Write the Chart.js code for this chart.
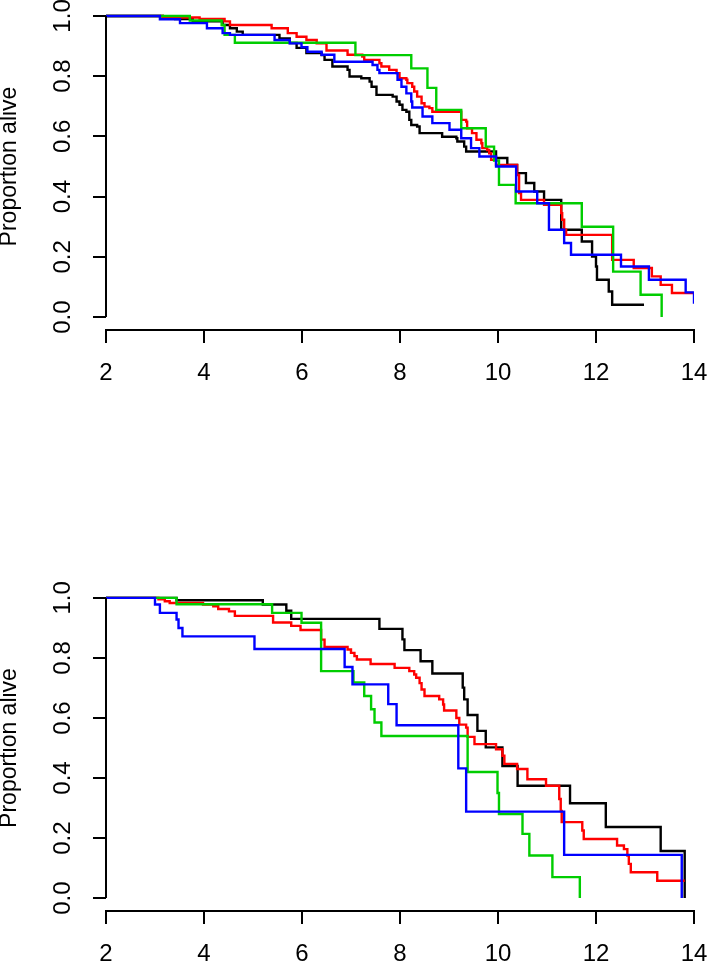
<!DOCTYPE html>
<html><head><meta charset="utf-8">
<script src="https://cdn.jsdelivr.net/npm/chart.js@4/dist/chart.umd.min.js"></script>
<style>
html,body{margin:0;padding:0;background:#fff;width:709px;height:962px;overflow:hidden;}
canvas{position:absolute;left:0;}
#topChart{top:0;}
#botChart{top:560px;}
</style></head><body>
<canvas id="topChart" width="709" height="400"></canvas>
<canvas id="botChart" width="709" height="402"></canvas>
<script>
// ---------- tick labels ----------
const xTicks = [2, 4, 6, 8, 10, 12, 14];
const yTicks = [0, 0.2, 0.4, 0.6, 0.8, 1.0];
const yTickLabels = ['0.0', '0.2', '0.4', '0.6', '0.8', '1.0'];
const yTitle = 'Proportion alive';

// ---------- top panel ----------
const t1Black = [2, 3.16, 3.41, 3.77, 4.38, 4.53, 4.67, 4.79, 5.54, 5.75, 5.89, 6.09, 6.40, 6.46, 6.62, 6.93, 6.97, 7.21, 7.38, 7.42, 7.52, 7.85, 7.93, 7.99, 8.05, 8.13, 8.19, 8.23, 8.35, 8.40, 8.86, 9.15, 9.17, 9.31, 9.35, 9.96, 10.19, 10.39, 10.57, 10.74, 10.94, 11.29, 11.71, 11.92, 12.00, 12.02, 12.26, 12.33, 12.98];
const s1Black = [1, 0.995, 0.99, 0.982, 0.97, 0.959, 0.948, 0.937, 0.925, 0.91, 0.894, 0.877, 0.87, 0.854, 0.832, 0.821, 0.799, 0.793, 0.782, 0.765, 0.738, 0.732, 0.716, 0.705, 0.688, 0.682, 0.655, 0.638, 0.633, 0.611, 0.599, 0.594, 0.583, 0.566, 0.55, 0.528, 0.505, 0.478, 0.445, 0.417, 0.389, 0.29, 0.251, 0.201, 0.168, 0.124, 0.085, 0.041, 0.041];

const t1Red = [2, 3.16, 3.91, 4.42, 4.53, 5.38, 5.71, 5.89, 6.09, 6.30, 6.50, 6.93, 7.23, 7.27, 7.58, 7.62, 7.78, 7.93, 7.99, 8.13, 8.15, 8.25, 8.29, 8.35, 8.44, 8.50, 8.60, 8.66, 9.25, 9.35, 9.37, 9.47, 9.56, 9.66, 9.68, 9.78, 9.82, 9.86, 9.96, 10.39, 10.43, 10.47, 10.94, 11.29, 11.31, 11.35, 11.39, 12.33, 12.77, 13.14, 13.32, 13.55, 13.98];
const s1Red = [1, 0.995, 0.99, 0.982, 0.97, 0.959, 0.943, 0.931, 0.92, 0.909, 0.885, 0.871, 0.865, 0.854, 0.843, 0.832, 0.821, 0.81, 0.793, 0.788, 0.777, 0.765, 0.749, 0.732, 0.71, 0.699, 0.694, 0.682, 0.655, 0.649, 0.627, 0.611, 0.589, 0.577, 0.561, 0.555, 0.544, 0.522, 0.505, 0.472, 0.412, 0.389, 0.373, 0.345, 0.323, 0.29, 0.273, 0.19, 0.163, 0.135, 0.107, 0.08, 0.08];

const t1Green = [2, 3.71, 4.36, 4.42, 4.63, 7.09, 8.23, 8.56, 8.74, 9.25, 9.75, 9.92, 10.02, 10.36, 11.71, 12.35, 12.91, 13.34];
const s1Green = [1, 0.985, 0.97, 0.937, 0.911, 0.87, 0.826, 0.761, 0.688, 0.627, 0.566, 0.52, 0.439, 0.378, 0.3, 0.151, 0.074, 0];

const t1Blue = [2, 3.10, 3.51, 4.06, 4.38, 4.53, 5.44, 5.75, 5.99, 6.11, 6.40, 6.66, 7.44, 7.54, 7.58, 7.95, 8.03, 8.13, 8.23, 8.25, 8.46, 8.66, 9.01, 9.25, 9.45, 9.62, 9.96, 10.37, 10.80, 11.04, 11.35, 11.49, 12.51, 13.08, 13.83, 14.0, 14.0];
const s1Blue = [1, 0.989, 0.976, 0.959, 0.943, 0.937, 0.92, 0.909, 0.896, 0.881, 0.871, 0.848, 0.837, 0.821, 0.81, 0.788, 0.765, 0.743, 0.716, 0.696, 0.666, 0.644, 0.622, 0.594, 0.561, 0.533, 0.5, 0.417, 0.378, 0.29, 0.246, 0.207, 0.168, 0.124, 0.082, 0.082, 0.044];

// ---------- bottom panel ----------
const t2Black = [2, 3.44, 5.20, 5.68, 5.78, 7.58, 8.05, 8.09, 8.42, 8.66, 9.28, 9.31, 9.38, 9.58, 9.75, 10.09, 10.40, 11.47, 12.20, 13.32, 13.81];
const s2Black = [1, 0.992, 0.978, 0.957, 0.93, 0.897, 0.862, 0.826, 0.789, 0.748, 0.701, 0.662, 0.61, 0.557, 0.502, 0.44, 0.374, 0.316, 0.237, 0.157, 0];

const t2Red = [2, 3.07, 3.20, 3.30, 3.98, 4.19, 4.29, 4.51, 4.63, 5.41, 5.78, 5.97, 6.39, 6.46, 6.93, 7.00, 7.07, 7.12, 7.40, 7.89, 8.19, 8.29, 8.33, 8.40, 8.44, 8.50, 8.80, 8.88, 8.90, 9.15, 9.21, 9.35, 9.38, 9.52, 9.96, 10.09, 10.13, 10.39, 10.60, 10.98, 11.25, 11.28, 11.30, 11.72, 11.75, 12.43, 12.57, 12.64, 12.67, 12.71, 13.25, 13.81];
const s2Red = [1, 0.995, 0.989, 0.983, 0.978, 0.972, 0.963, 0.955, 0.94, 0.918, 0.907, 0.893, 0.861, 0.837, 0.828, 0.817, 0.806, 0.795, 0.78, 0.767, 0.756, 0.745, 0.734, 0.716, 0.695, 0.673, 0.662, 0.645, 0.625, 0.60, 0.578, 0.568, 0.537, 0.513, 0.496, 0.474, 0.447, 0.43, 0.396, 0.374, 0.33, 0.29, 0.253, 0.225, 0.197, 0.175, 0.163, 0.142, 0.114, 0.086, 0.058, 0.058];

const t2Green = [2, 3.44, 5.39, 5.99, 6.39, 7.05, 7.27, 7.41, 7.48, 7.62, 9.38, 9.99, 10.02, 10.50, 10.64, 11.11, 11.67];
const s2Green = [1, 0.979, 0.95, 0.917, 0.756, 0.718, 0.673, 0.629, 0.585, 0.54, 0.42, 0.35, 0.28, 0.214, 0.142, 0.07, 0];

const t2Blue = [2, 3.00, 3.10, 3.44, 3.48, 3.56, 5.03, 6.87, 7.03, 7.76, 7.93, 9.19, 9.35, 11.35, 13.75];
const s2Blue = [1, 0.978, 0.95, 0.928, 0.9, 0.872, 0.83, 0.77, 0.712, 0.646, 0.576, 0.432, 0.288, 0.144, 0];

// ---------- drawing ----------
Chart.defaults.font.family = "'Liberation Sans', Arial, Helvetica, sans-serif";
Chart.defaults.color = '#000';

const FONT_SIZE = 24;

function pts(t, s) { return t.map((v, i) => ({ x: v, y: s[i] })); }

const yAxisLine = {
  id: 'yAxisLine',
  afterDraw(chart) {
    const { ctx, chartArea, scales } = chart;
    const y = scales.y;
    ctx.save();
    ctx.strokeStyle = '#000';
    ctx.lineWidth = 2;
    ctx.beginPath();
    ctx.moveTo(chartArea.left, y.getPixelForValue(yTicks[0]));
    ctx.lineTo(chartArea.left, y.getPixelForValue(yTicks[yTicks.length - 1]));
    ctx.stroke();
    ctx.restore();
  }
};

function ds(data, color, order) {
  return { data, borderColor: color, backgroundColor: color, borderWidth: 2.4, pointRadius: 0,
           stepped: true, fill: false, tension: 0, order };
}

function makeChart(id, series, padTop, xAxisHeight) {
  return new Chart(document.getElementById(id), {
    type: 'line',
    data: {
      datasets: [
        ds(pts(series[0][0], series[0][1]), '#000000', 4),
        ds(pts(series[1][0], series[1][1]), '#FF0000', 3),
        ds(pts(series[2][0], series[2][1]), '#00CD00', 2),
        ds(pts(series[3][0], series[3][1]), '#0000FF', 1)
      ]
    },
    options: {
      responsive: false,
      animation: false,
      events: [],
      layout: { padding: { left: 0, right: 15, top: padTop, bottom: 0 } },
      plugins: { legend: { display: false }, tooltip: { enabled: false } },
      scales: {
        x: {
          type: 'linear', min: 2, max: 14,
          afterBuildTicks: (sc) => { sc.ticks = xTicks.map(v => ({ value: v })); },
          afterFit: (sc) => { sc.height = xAxisHeight; sc.paddingLeft = 0; sc.paddingRight = 0; },
          grid: { drawOnChartArea: false, drawTicks: true, tickLength: 13, color: '#000', lineWidth: 2 },
          border: { display: true, color: '#000', width: 2 },
          ticks: { autoSkip: false, maxRotation: 0, minRotation: 0, padding: 16,
                   font: { size: FONT_SIZE }, color: '#000',
                   callback: (v) => String(v) }
        },
        y: {
          type: 'linear', min: -0.043, max: 1.043,
          afterBuildTicks: (sc) => { sc.ticks = yTicks.map(v => ({ value: v })); },
          afterFit: (sc) => { sc.width = 106; sc.paddingTop = 0; sc.paddingBottom = 0; },
          grid: { drawOnChartArea: false, drawTicks: true, tickLength: 13, color: '#000', lineWidth: 2 },
          border: { display: false },
          ticks: { autoSkip: false, minRotation: 90, maxRotation: 90, crossAlign: 'center', padding: 13,
                   font: { size: FONT_SIZE }, color: '#000',
                   callback: (v, i) => yTickLabels[i] },
          title: { display: true, text: yTitle, font: { size: 23, lineHeight: 1 }, color: '#000',
                   padding: { top: -2, bottom: 0 } }
        }
      }
    },
    plugins: [yAxisLine]
  });
}

makeChart('topChart', [[t1Black, s1Black], [t1Red, s1Red], [t1Green, s1Green], [t1Blue, s1Blue]], 3, 70);
makeChart('botChart', [[t2Black, s2Black], [t2Red, s2Red], [t2Green, s2Green], [t2Blue, s2Blue]], 25, 51);
</script></body></html>
